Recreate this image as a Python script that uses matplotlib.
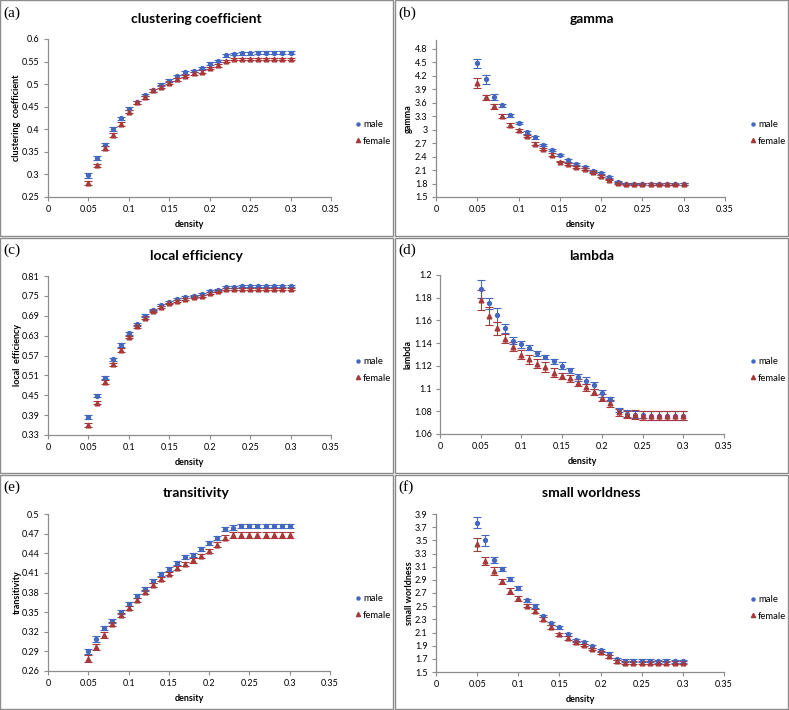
import matplotlib
matplotlib.use("Agg")
import matplotlib.pyplot as plt
from matplotlib.patches import Rectangle
from matplotlib.lines import Line2D

plt.rcParams['font.family'] = ['Lato', 'DejaVu Sans']

density = [0.05, 0.06, 0.07, 0.08, 0.09, 0.10, 0.11, 0.12, 0.13, 0.14, 0.15, 0.16, 0.17,
           0.18, 0.19, 0.20, 0.21, 0.22, 0.23, 0.24, 0.25, 0.26, 0.27, 0.28, 0.29, 0.30]

# (a) clustering coefficient
cc_male = [0.298, 0.336, 0.366, 0.401, 0.424, 0.446, 0.460, 0.476, 0.486, 0.499, 0.508, 0.517, 0.526,
           0.529, 0.536, 0.545, 0.551, 0.564, 0.567, 0.568, 0.568, 0.570, 0.570, 0.570, 0.570, 0.570]
cc_female = [0.281, 0.320, 0.358, 0.387, 0.412, 0.439, 0.460, 0.471, 0.486, 0.494, 0.503, 0.511, 0.518,
             0.524, 0.528, 0.536, 0.542, 0.551, 0.556, 0.556, 0.556, 0.556, 0.556, 0.556, 0.556, 0.556]
cc_male_err = [0.006, 0.004, 0.004, 0.004, 0.004, 0.003, 0.003, 0.003, 0.003, 0.003, 0.003, 0.003, 0.003,
               0.003, 0.003, 0.003, 0.003, 0.003, 0.003, 0.003, 0.003, 0.003, 0.003, 0.003, 0.003, 0.003]
cc_female_err = [0.004, 0.004, 0.004, 0.004, 0.004, 0.003, 0.003, 0.003, 0.003, 0.003, 0.003, 0.003, 0.003,
                 0.003, 0.003, 0.003, 0.003, 0.003, 0.003, 0.003, 0.003, 0.003, 0.003, 0.003, 0.003, 0.003]

# (b) gamma
gm_male = [4.48, 4.12, 3.73, 3.54, 3.32, 3.15, 2.94, 2.83, 2.66, 2.54, 2.43, 2.32, 2.23,
           2.17, 2.08, 2.03, 1.94, 1.83, 1.80, 1.80, 1.80, 1.79, 1.79, 1.79, 1.79, 1.79]
gm_female = [4.04, 3.72, 3.52, 3.31, 3.11, 2.99, 2.86, 2.69, 2.57, 2.44, 2.29, 2.23, 2.16,
             2.12, 2.05, 1.97, 1.89, 1.81, 1.79, 1.79, 1.79, 1.79, 1.78, 1.79, 1.78, 1.79]
gm_male_err = [0.10, 0.09, 0.06, 0.04, 0.04, 0.03, 0.03, 0.03, 0.03, 0.02, 0.02, 0.03, 0.02,
               0.02, 0.02, 0.02, 0.02, 0.02, 0.02, 0.02, 0.02, 0.02, 0.02, 0.02, 0.02, 0.02]
gm_female_err = [0.11, 0.06, 0.05, 0.04, 0.04, 0.03, 0.03, 0.03, 0.03, 0.03, 0.02, 0.02, 0.02,
                 0.02, 0.02, 0.02, 0.02, 0.02, 0.02, 0.02, 0.02, 0.02, 0.02, 0.02, 0.02, 0.02]

# (c) local efficiency
le_male = [0.384, 0.449, 0.503, 0.558, 0.602, 0.637, 0.664, 0.690, 0.707, 0.721, 0.731, 0.740, 0.748,
           0.751, 0.757, 0.766, 0.769, 0.778, 0.778, 0.780, 0.780, 0.780, 0.780, 0.780, 0.780, 0.780]
le_female = [0.361, 0.428, 0.490, 0.543, 0.587, 0.626, 0.658, 0.684, 0.704, 0.717, 0.727, 0.736, 0.742,
             0.746, 0.751, 0.758, 0.764, 0.772, 0.772, 0.772, 0.772, 0.772, 0.772, 0.772, 0.772, 0.772]
le_male_err = [0.006, 0.005, 0.005, 0.005, 0.005, 0.004, 0.004, 0.004, 0.003, 0.003, 0.003, 0.003, 0.003,
               0.003, 0.003, 0.003, 0.003, 0.003, 0.003, 0.003, 0.003, 0.003, 0.003, 0.003, 0.003, 0.003]
le_female_err = [0.006, 0.005, 0.005, 0.005, 0.005, 0.004, 0.004, 0.004, 0.003, 0.003, 0.003, 0.003, 0.003,
                 0.003, 0.003, 0.003, 0.003, 0.003, 0.003, 0.003, 0.003, 0.003, 0.003, 0.003, 0.003, 0.003]

# (d) lambda
lb_male = [1.188, 1.175, 1.165, 1.153, 1.142, 1.139, 1.136, 1.131, 1.128, 1.124, 1.120, 1.116, 1.110,
           1.107, 1.103, 1.096, 1.091, 1.081, 1.078, 1.077, 1.077, 1.076, 1.076, 1.076, 1.076, 1.076]
lb_female = [1.178, 1.164, 1.153, 1.144, 1.137, 1.130, 1.126, 1.122, 1.119, 1.114, 1.111, 1.109, 1.105,
             1.101, 1.097, 1.092, 1.087, 1.079, 1.077, 1.077, 1.076, 1.076, 1.076, 1.076, 1.076, 1.076]
lb_male_err = [0.008, 0.005, 0.006, 0.004, 0.003, 0.003, 0.002, 0.002, 0.002, 0.002, 0.003, 0.002, 0.003,
               0.003, 0.003, 0.003, 0.002, 0.002, 0.003, 0.003, 0.003, 0.004, 0.004, 0.004, 0.004, 0.004]
lb_female_err = [0.009, 0.008, 0.006, 0.004, 0.004, 0.004, 0.004, 0.004, 0.004, 0.004, 0.003, 0.003, 0.003,
                 0.003, 0.003, 0.003, 0.003, 0.003, 0.003, 0.004, 0.004, 0.004, 0.004, 0.004, 0.004, 0.004]

# (e) transitivity
tr_male = [0.290, 0.309, 0.326, 0.337, 0.350, 0.363, 0.374, 0.386, 0.398, 0.408, 0.416, 0.425, 0.434,
           0.438, 0.446, 0.455, 0.463, 0.477, 0.479, 0.482, 0.482, 0.482, 0.482, 0.482, 0.482, 0.482]
tr_female = [0.279, 0.297, 0.315, 0.332, 0.346, 0.357, 0.369, 0.381, 0.391, 0.400, 0.409, 0.417, 0.424,
             0.429, 0.436, 0.443, 0.453, 0.464, 0.468, 0.468, 0.468, 0.468, 0.468, 0.468, 0.468, 0.468]
tr_male_err = [0.004, 0.004, 0.003, 0.003, 0.003, 0.003, 0.003, 0.003, 0.003, 0.003, 0.003, 0.003, 0.003,
               0.003, 0.003, 0.003, 0.003, 0.003, 0.004, 0.003, 0.003, 0.003, 0.003, 0.003, 0.003, 0.003]
tr_female_err = [0.005, 0.005, 0.004, 0.003, 0.003, 0.003, 0.003, 0.003, 0.003, 0.003, 0.003, 0.003, 0.003,
                 0.004, 0.003, 0.003, 0.004, 0.004, 0.004, 0.004, 0.004, 0.004, 0.004, 0.004, 0.004, 0.004]

# (f) small worldness
sw_male = [3.77, 3.50, 3.20, 3.06, 2.91, 2.77, 2.59, 2.50, 2.35, 2.24, 2.18, 2.07, 1.98,
           1.95, 1.89, 1.83, 1.78, 1.70, 1.67, 1.67, 1.67, 1.67, 1.66, 1.67, 1.66, 1.66]
sw_female = [3.44, 3.19, 3.04, 2.88, 2.73, 2.62, 2.51, 2.42, 2.30, 2.18, 2.07, 2.01, 1.95,
             1.91, 1.85, 1.80, 1.74, 1.66, 1.64, 1.64, 1.64, 1.64, 1.64, 1.64, 1.64, 1.64]
sw_male_err = [0.09, 0.08, 0.05, 0.03, 0.03, 0.03, 0.02, 0.03, 0.02, 0.02, 0.02, 0.02, 0.02,
               0.02, 0.02, 0.02, 0.02, 0.02, 0.02, 0.02, 0.02, 0.02, 0.02, 0.02, 0.02, 0.02]
sw_female_err = [0.10, 0.06, 0.06, 0.04, 0.04, 0.04, 0.03, 0.03, 0.03, 0.03, 0.03, 0.03, 0.02,
                 0.02, 0.02, 0.02, 0.02, 0.02, 0.02, 0.02, 0.02, 0.02, 0.02, 0.02, 0.02, 0.02]

x_ticks = [0, 0.05, 0.1, 0.15, 0.2, 0.25, 0.3, 0.35]
x_ticklabels = ['0', '0.05', '0.1', '0.15', '0.2', '0.25', '0.3', '0.35']

series_labels = ['male', 'female']

W, H = 789, 710
fig = plt.figure(figsize=(W / 100, H / 100), dpi=100)

MALE_C = '#4468bf'
FEMALE_C = '#a8393a'

def px_box(x0, y0, x1, y1):
    return [x0 / W, 1 - y1 / H, (x1 - x0) / W, (y1 - y0) / H]

panels = [
    dict(tag='(a)', title='clustering coefficient', ylabel='clustering  coefficient',
         male=cc_male, female=cc_female, merr=cc_male_err, ferr=cc_female_err,
         yticks=[0.25, 0.3, 0.35, 0.4, 0.45, 0.5, 0.55, 0.6], ylim=(0.25, 0.6),
         ax=(48, 39, 331, 197), box=(0, 0, 393, 236), row=0, ylx=21, leg=(355, 133)),
    dict(tag='(b)', title='gamma', ylabel='gamma',
         male=gm_male, female=gm_female, merr=gm_male_err, ferr=gm_female_err,
         yticks=[1.5, 1.8, 2.1, 2.4, 2.7, 3.0, 3.3, 3.6, 3.9, 4.2, 4.5, 4.8], ylim=(1.5, 5.0),
         ax=(436, 40, 725, 197), box=(395, 0, 788, 236), row=0, ylx=413, leg=(750, 133)),
    dict(tag='(c)', title='local efficiency', ylabel='local  efficiency',
         male=le_male, female=le_female, merr=le_male_err, ferr=le_female_err,
         yticks=[0.33, 0.39, 0.45, 0.51, 0.57, 0.63, 0.69, 0.75, 0.81], ylim=(0.33, 0.81),
         ax=(48, 276, 331, 435), box=(0, 238, 393, 473), row=1, ylx=22, leg=(355, 370)),
    dict(tag='(d)', title='lambda', ylabel='lambda',
         male=lb_male, female=lb_female, merr=lb_male_err, ferr=lb_female_err,
         yticks=[1.06, 1.08, 1.1, 1.12, 1.14, 1.16, 1.18, 1.2], ylim=(1.06, 1.2),
         ax=(440, 275, 724, 434), box=(395, 238, 788, 473), row=1, ylx=413, leg=(750, 370)),
    dict(tag='(e)', title='transitivity', ylabel='transitivity',
         male=tr_male, female=tr_female, merr=tr_male_err, ferr=tr_female_err,
         yticks=[0.26, 0.29, 0.32, 0.35, 0.38, 0.41, 0.44, 0.47, 0.5], ylim=(0.26, 0.5),
         ax=(48, 514, 330, 671), box=(0, 475, 393, 709), row=2, ylx=22, leg=(355, 607)),
    dict(tag='(f)', title='small worldness', ylabel='small worldness',
         male=sw_male, female=sw_female, merr=sw_male_err, ferr=sw_female_err,
         yticks=[1.5, 1.7, 1.9, 2.1, 2.3, 2.5, 2.7, 2.9, 3.1, 3.3, 3.5, 3.7, 3.9], ylim=(1.5, 3.9),
         ax=(436, 514, 724, 672), box=(395, 475, 788, 709), row=2, ylx=414, leg=(750, 608)),
]

title_y = [19, 256, 493]
tag_y = [13, 250, 487]

handles = [
    Line2D([], [], linestyle='none', marker='o', markersize=2.2, color=MALE_C),
    Line2D([], [], linestyle='none', marker='^', markersize=3.0, color=FEMALE_C),
]

for p in panels:
    bx0, by0, bx1, by1 = p['box']
    fig.add_artist(Rectangle((bx0 / W, 1 - by1 / H), (bx1 - bx0) / W, (by1 - by0) / H,
                             transform=fig.transFigure, fill=False, edgecolor='#8c8c8c',
                             linewidth=1.0))
    fig.text((bx0 + 3) / W, 1 - tag_y[p['row']] / H, p['tag'], family='Liberation Serif',
             fontsize=11, ha='left', va='center')
    fig.text(((bx0 + bx1) / 2) / W, 1 - title_y[p['row']] / H, p['title'],
             fontsize=10, fontweight='bold', ha='center', va='center')

    ax0, ay0, ax1, ay1 = p['ax']
    ax = fig.add_axes(px_box(ax0, ay0, ax1, ay1))
    ax.errorbar(density, p['male'], yerr=p['merr'], fmt='o', color=MALE_C, ecolor=MALE_C,
                markersize=2.8, capsize=2.6, elinewidth=0.8, capthick=0.8)
    ax.errorbar(density, p['female'], yerr=p['ferr'], fmt='^', color=FEMALE_C, ecolor=FEMALE_C,
                markersize=3.4, capsize=2.6, elinewidth=0.8, capthick=0.8)
    ax.set_xlim(0, 0.35)
    ax.set_ylim(*p['ylim'])
    ax.set_xticks(x_ticks)
    ax.set_xticklabels(x_ticklabels)
    ax.set_yticks(p['yticks'])
    ax.set_yticklabels(['%g' % v for v in p['yticks']])
    for s in ['top', 'right']:
        ax.spines[s].set_visible(False)
    for s in ['left', 'bottom']:
        ax.spines[s].set_color('#8c8c8c')
        ax.spines[s].set_linewidth(0.9)
    ax.tick_params(axis='both', direction='out', length=3, width=0.8, color='#8c8c8c',
                   labelsize=6.5, pad=3)
    ax.set_xlabel('density', fontsize=6.5, fontweight='bold', labelpad=4)
    ax.set_ylabel(p['ylabel'], fontsize=6.5, fontweight='bold')
    ax.yaxis.set_label_coords((p['ylx'] - ax0) / (ax1 - ax0), 0.5)
    ax.patch.set_alpha(0)
    lx, ly = p['leg']
    ax.legend(handles, series_labels, loc='center left',
              bbox_to_anchor=((lx - 7) / W, 1 - ly / H), bbox_transform=fig.transFigure,
              frameon=False, fontsize=6.8, handletextpad=0.1, labelspacing=0.75,
              handlelength=0.8, borderpad=0.2)

fig.savefig('out.png', dpi=100)
